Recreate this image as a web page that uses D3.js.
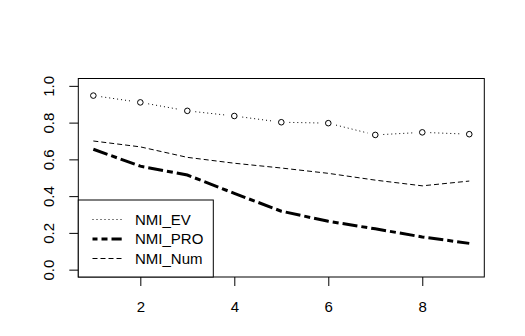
<!DOCTYPE html>
<html><head><meta charset="utf-8">
<script src="https://cdnjs.cloudflare.com/ajax/libs/d3/7.8.5/d3.min.js"></script>
<style>body{margin:0;background:#fff}svg{display:block}text{font-family:"Liberation Sans",Arial,sans-serif;fill:#000}</style>
</head><body><svg id="c" width="525" height="336"></svg>
<script>
const xs = [1,2,3,4,5,6,7,8,9];
const nmiEV  = [0.947,0.910,0.864,0.836,0.802,0.797,0.733,0.747,0.737];
const nmiPRO = [0.655,0.563,0.515,0.415,0.318,0.263,0.222,0.178,0.143];
const nmiNum = [0.700,0.668,0.611,0.579,0.553,0.524,0.487,0.456,0.482];
const xTicks = [2,4,6,8];
const yTicks = [0,0.2,0.4,0.6,0.8,1.0];
const legendLabels = ["NMI_EV","NMI_PRO","NMI_Num"];

const svg = d3.select("#c");
const L=78.3,R=484.3,T=78.5,B=277;
const x = d3.scaleLinear().domain([1-0.32,9+0.32]).range([L,R]);
const y = d3.scaleLinear().domain([-0.04,1.04]).range([B,T]);

// axes
const gx = svg.append("g").attr("transform",`translate(0,${B})`)
  .call(d3.axisBottom(x).tickValues(xTicks).tickSize(9).tickPadding(15).tickFormat(d3.format("d")));
const gy = svg.append("g").attr("transform",`translate(${L},0)`)
  .call(d3.axisLeft(y).tickValues(yTicks).tickSize(9).tickFormat(d3.format(".1f")));
[gx,gy].forEach(g=>{g.select(".domain").remove();g.selectAll("line").attr("stroke","#000");
  g.selectAll("text").style("font-size","15px").attr("font-family",null);});
gx.selectAll("text").attr("dy",null).attr("y",34.5);
gy.selectAll("text").attr("x",null).attr("dy",null).attr("text-anchor","middle")
  .attr("transform","translate(-24,0) rotate(-90)");

const line = d3.line().x((d,i)=>x(xs[i])).y(d=>y(d));

// NMI_Num
svg.append("path").attr("d",line(nmiNum)).attr("fill","none").attr("stroke","#000")
  .attr("stroke-width",1).attr("stroke-dasharray","5,3");
// NMI_PRO
svg.append("path").attr("d",line(nmiPRO)).attr("fill","none").attr("stroke","#000")
  .attr("stroke-width",3).attr("stroke-dasharray","15,4,6,4");
// NMI_EV segments with gaps around points (type="b")
const gap=8;
for(let i=0;i<xs.length-1;i++){
  const x0=x(xs[i]),y0=y(nmiEV[i]),x1=x(xs[i+1]),y1=y(nmiEV[i+1]);
  const dx=x1-x0,dy=y1-y0,len=Math.hypot(dx,dy),ux=dx/len,uy=dy/len;
  svg.append("line").attr("x1",x0+ux*gap).attr("y1",y0+uy*gap)
    .attr("x2",x1-ux*gap).attr("y2",y1-uy*gap)
    .attr("stroke","#000").attr("stroke-width",1).attr("stroke-dasharray","1,3");
}
svg.selectAll("circle.ev").data(nmiEV).join("circle").attr("class","ev")
  .attr("cx",(d,i)=>x(xs[i])).attr("cy",d=>y(d)).attr("r",2.8)
  .attr("fill","none").attr("stroke","#000").attr("stroke-width",1);

// box
svg.append("rect").attr("x",L).attr("y",T).attr("width",R-L).attr("height",B-T)
  .attr("fill","none").attr("stroke","#000").attr("stroke-width",1);

// legend
const lg = svg.append("g");
lg.append("rect").attr("x",L).attr("y",200).attr("width",135).attr("height",B-200)
  .attr("fill","#fff").attr("stroke","#000").attr("stroke-width",1);
const styles=[{w:1,d:"1,3"},{w:3,d:"15,4,6,4"},{w:1,d:"5,3"}];
legendLabels.forEach((lab,i)=>{
  const yy=219.5+i*19.5;
  lg.append("line").attr("x1",92.5).attr("x2",121.7).attr("y1",yy).attr("y2",yy)
    .attr("stroke","#000").attr("stroke-width",styles[i].w).attr("stroke-dasharray",styles[i].d)
    .attr("stroke-dashoffset", i==1? 10:0);
  lg.append("text").attr("x",135).attr("y",yy+5.3).style("font-size","15px").text(lab);
});
</script></body></html>
